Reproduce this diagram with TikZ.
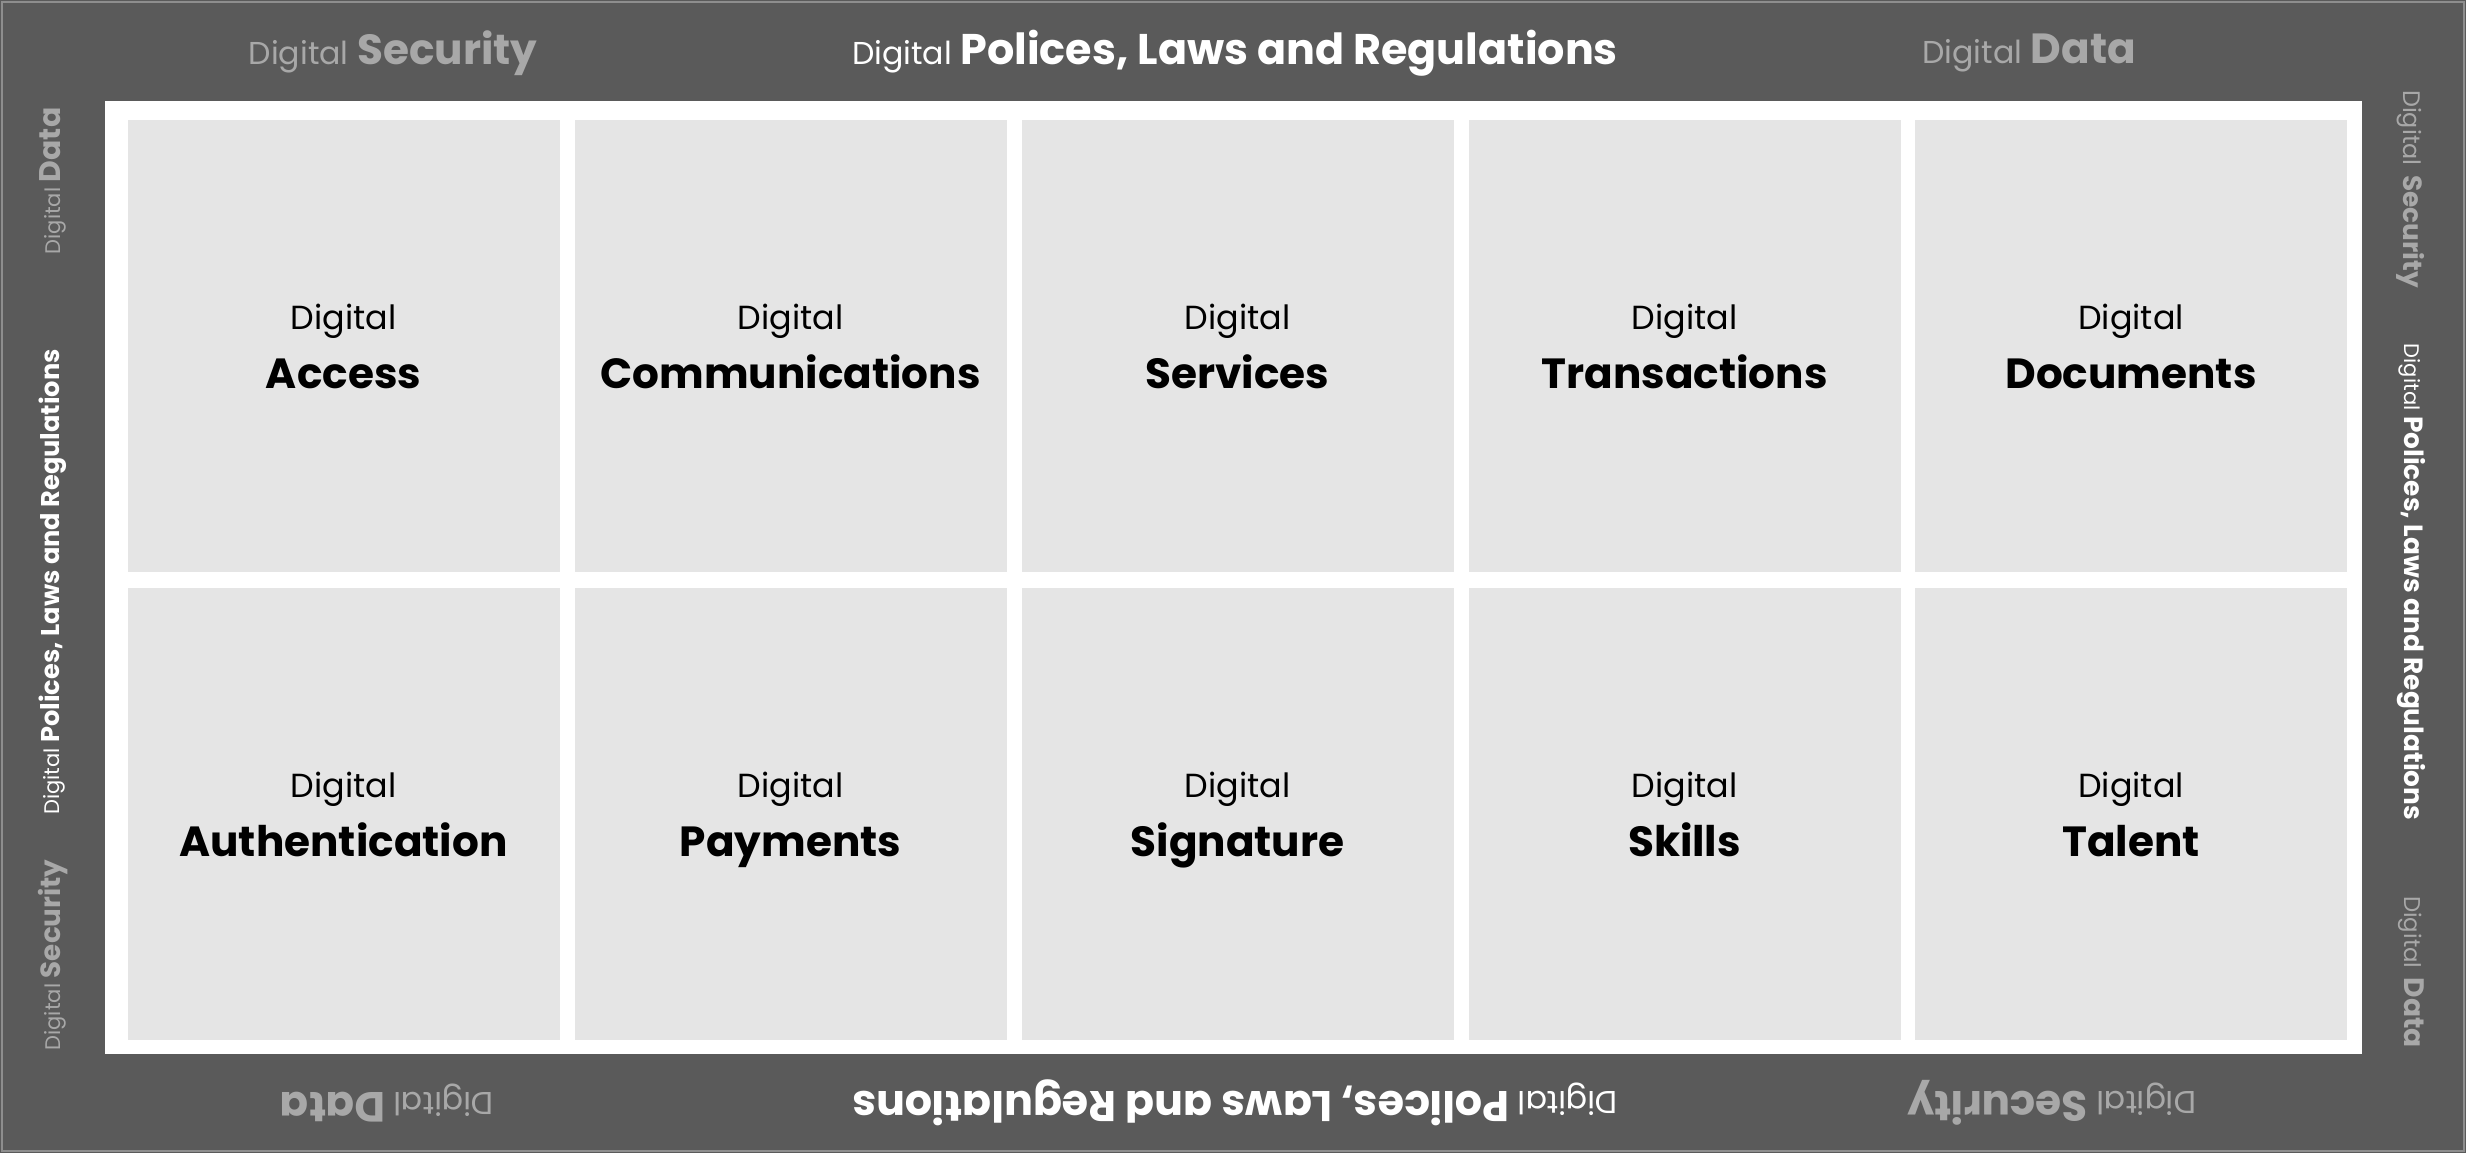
\documentclass[tikz,border=0pt]{standalone}
\usepackage{fontspec}
\setmainfont{Poppins}
\definecolor{bandgray}{HTML}{5A5A5A}
\definecolor{edgegray}{HTML}{8E8E8E}
\definecolor{cellgray}{HTML}{E5E5E5}
\definecolor{mutedgray}{HTML}{A8A8A8}
\newcommand{\smalldig}{\fontsize{9}{10}\selectfont Digital}
\newcommand{\sidedig}{\fontsize{6}{7}\selectfont Digital}
\newcommand{\celltext}[1]{{\fontsize{9.5}{10}\selectfont\strut Digital}\\[3pt]{\fontsize{12}{14}\selectfont\bfseries\strut #1}}
\begin{document}
\begin{tikzpicture}[
    cell/.style={fill=cellgray, minimum width=4.32cm, minimum height=4.52cm, inner sep=0pt, align=center, text depth=0pt},
    bandtext/.style={inner sep=0pt, anchor=center},
    muted/.style={bandtext, text=mutedgray},
    lead/.style={bandtext, text=white}
  ]
  % frame and inner panel
  \fill[bandgray] (0,0) rectangle (24.66,11.53);
  \draw[edgegray, line width=0.8pt] (0.02,0.02) rectangle (24.64,11.51);
  \fill[white] (1.05,0.99) rectangle (23.62,10.52);

  % top band
  \node[muted] (secTop) at (3.93,11.00) {\smalldig\ {\fontsize{12}{14}\selectfont\bfseries Security}};
  \node[lead] (polTop) at (12.35,11.00) {\smalldig\ {\fontsize{12.2}{14}\selectfont\bfseries Polices, Laws and Regulations}};
  \node[muted] (datTop) at (20.29,11.00) {\smalldig\ {\fontsize{12}{14}\selectfont\bfseries Data}};

  % bottom band
  \node[muted, rotate=180] (datBot) at (3.87,0.50) {\smalldig\ {\fontsize{12}{14}\selectfont\bfseries Data}};
  \node[lead, rotate=180] (polBot) at (12.35,0.50) {\smalldig\ {\fontsize{12.2}{14}\selectfont\bfseries Polices, Laws and Regulations}};
  \node[muted, rotate=180] (secBot) at (20.52,0.50) {\smalldig\ {\fontsize{12}{14}\selectfont\bfseries Security}};

  % left band
  \node[muted, rotate=90] (datLeft) at (0.53,9.72) {\sidedig\ {\fontsize{8.5}{10}\selectfont\bfseries Data}};
  \node[lead, rotate=90] (polLeft) at (0.53,5.71) {\sidedig\ {\fontsize{7.3}{9}\selectfont\bfseries Polices, Laws and Regulations}};
  \node[muted, rotate=90] (secLeft) at (0.53,1.98) {\sidedig\ {\fontsize{7.9}{10}\selectfont\bfseries Security}};

  % right band
  \node[muted, rotate=-90] (secRight) at (24.11,9.64) {{\fontsize{6.8}{8}\selectfont Digital}\ {\fontsize{7.5}{9}\selectfont\bfseries Security}};
  \node[lead, rotate=-90] (polRight) at (24.11,5.71) {\sidedig\ {\fontsize{7.5}{9}\selectfont\bfseries Polices, Laws and Regulations}};
  \node[muted, rotate=-90] (datRight) at (24.11,1.81) {{\fontsize{6.5}{8}\selectfont Digital}\ {\fontsize{8}{9}\selectfont\bfseries Data}};

  % upper row
  \node[cell] (access) at (3.435,8.07) {\celltext{Access}};
  \node[cell] (communications) at (7.905,8.07) {\celltext{Communications}};
  \node[cell] (services) at (12.375,8.07) {\celltext{Services}};
  \node[cell] (transactions) at (16.845,8.07) {\celltext{Transactions}};
  \node[cell] (documents) at (21.31,8.07) {\celltext{Documents}};

  % lower row
  \node[cell] (authentication) at (3.435,3.39) {\celltext{Authentication}};
  \node[cell] (payments) at (7.905,3.39) {\celltext{Payments}};
  \node[cell] (signature) at (12.375,3.39) {\celltext{Signature}};
  \node[cell] (skills) at (16.845,3.39) {\celltext{Skills}};
  \node[cell] (talent) at (21.31,3.39) {\celltext{Talent}};
\end{tikzpicture}
\end{document}
